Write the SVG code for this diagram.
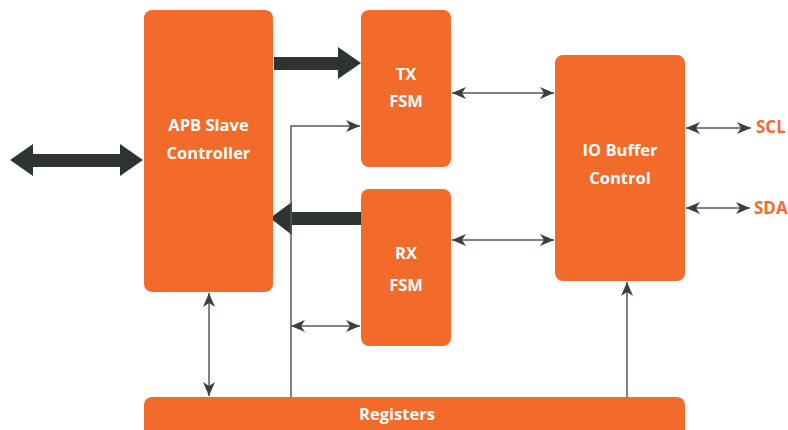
<svg xmlns="http://www.w3.org/2000/svg" width="788" height="430" viewBox="0 0 788 430">
<style>
.box{fill:#F26B2A}
.lbl{fill:#fff;font-family:"Open Sans","Liberation Sans",sans-serif;font-weight:700;font-size:16.5px;text-anchor:middle}
.pin{fill:#F26B2A;font-family:"Open Sans","Liberation Sans",sans-serif;font-weight:700;font-size:17px}
.thin{stroke:#555a5a;stroke-width:1.5;fill:none}
.thick{fill:#2F3332}
</style>
<defs>
<marker id="ah" viewBox="0 0 14 12" refX="14" refY="6" markerWidth="14" markerHeight="12" markerUnits="userSpaceOnUse" orient="auto-start-reverse">
<path d="M0,0 L14,6 L0,12 L4,6 z" fill="#3a3f3f"/>
</marker>
</defs>
<rect width="788" height="430" fill="#fff"/>
<g id="connectors">
<polygon class="thick" points="10,160 33,144 33,154 120,154 120,144 143,160 120,176 120,167 33,167 33,176"/>
<polygon class="thick" points="274,57 338,57 338,47 361,63 338,79 338,70 274,70"/>
<polygon class="thick" points="361,212 292,212 292,202 270,218 292,235 292,225 361,225"/>
<polyline class="thin" points="291,397 291,126 360,126" marker-end="url(#ah)"/>
<line class="thin" x1="291" y1="326" x2="360" y2="326" marker-start="url(#ah)" marker-end="url(#ah)"/>
<line class="thin" x1="209" y1="293" x2="209" y2="396" marker-start="url(#ah)" marker-end="url(#ah)"/>
<line class="thin" x1="452" y1="93" x2="554" y2="93" marker-start="url(#ah)" marker-end="url(#ah)"/>
<line class="thin" x1="452" y1="240" x2="554" y2="240" marker-start="url(#ah)" marker-end="url(#ah)"/>
<line class="thin" x1="627" y1="397" x2="627" y2="282" marker-end="url(#ah)"/>
<line class="thin" x1="686" y1="128" x2="751" y2="128" marker-start="url(#ah)" marker-end="url(#ah)"/>
<line class="thin" x1="686" y1="208" x2="750" y2="208" marker-start="url(#ah)" marker-end="url(#ah)"/>
</g>
<g id="apb">
<rect class="box" x="144" y="10" width="129" height="282" rx="8"/>
<text class="lbl" x="208.5" y="131">APB Slave</text>
<text class="lbl" x="208.5" y="159">Controller</text>
</g>
<g id="tx">
<rect class="box" x="361" y="10" width="90" height="157" rx="8"/>
<text class="lbl" x="406" y="80">TX</text>
<text class="lbl" x="406" y="107">FSM</text>
</g>
<g id="rx">
<rect class="box" x="361" y="189" width="90" height="157" rx="8"/>
<text class="lbl" x="406" y="259">RX</text>
<text class="lbl" x="406" y="291">FSM</text>
</g>
<g id="io">
<rect class="box" x="555" y="55" width="130" height="226" rx="8"/>
<text class="lbl" x="620" y="156">IO Buffer</text>
<text class="lbl" x="620" y="184">Control</text>
</g>
<g id="registers">
<rect class="box" x="144" y="397" width="541" height="45" rx="8"/>
<text class="lbl" x="397" y="420">Registers</text>
</g>
<g id="scl"><text class="pin" x="756" y="133">SCL</text></g>
<g id="sda"><text class="pin" x="754" y="214">SDA</text></g>
</svg>
